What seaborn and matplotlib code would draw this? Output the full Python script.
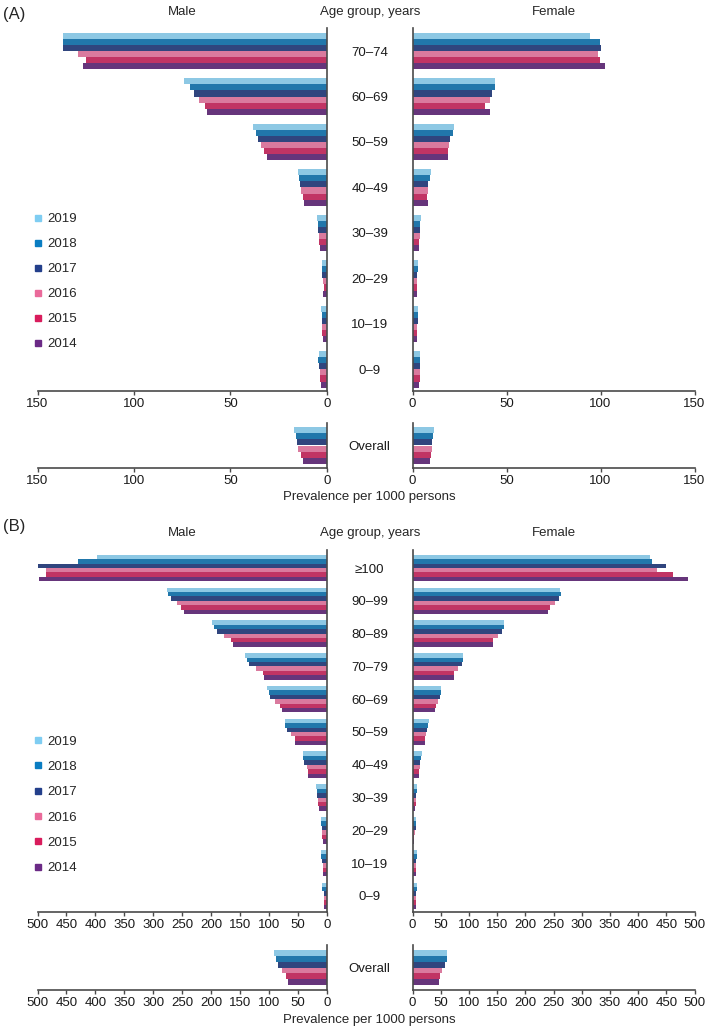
import matplotlib
matplotlib.use('Agg')
import matplotlib.pyplot as plt
from matplotlib.lines import Line2D
import seaborn as sns
import pandas as pd

# years and colours, top bar in each group first
years = ['2019', '2018', '2017', '2016', '2015', '2014']
colors = ['#7fcdf2', '#0a7dc2', '#233f8b', '#ea6a9a', '#d91c5c', '#6b2a86']

# Panel A - prevalence per 1000 persons
ages_a = ['70–74', '60–69', '50–59', '40–49', '30–39', '20–29', '10–19', '0–9']
male_a = [
    [136.8, 136.9, 136.9, 129.1, 124.8, 126.2],
    [74.0, 71.2, 68.8, 66.5, 63.0, 62.4],
    [38.1, 37.0, 35.6, 34.1, 32.9, 31.1],
    [15.1, 14.5, 14.0, 13.3, 12.6, 11.9],
    [5.2, 4.7, 4.7, 4.2, 4.0, 3.8],
    [2.8, 2.6, 2.6, 2.3, 1.6, 1.9],
    [3.3, 2.8, 2.6, 2.8, 2.6, 2.1],
    [4.2, 4.5, 4.0, 3.5, 3.5, 3.3],
]
female_a = [
    [94.4, 99.6, 100.3, 98.7, 99.6, 102.2],
    [43.8, 43.8, 42.2, 41.2, 38.7, 41.0],
    [22.2, 21.5, 20.1, 19.5, 19.0, 19.0],
    [9.6, 9.1, 8.5, 8.3, 7.6, 8.0],
    [4.6, 4.1, 4.1, 4.1, 3.4, 3.4],
    [3.1, 2.9, 2.6, 2.4, 2.2, 2.2],
    [3.1, 2.9, 2.9, 2.6, 2.4, 2.2],
    [4.1, 4.1, 3.9, 3.9, 3.9, 3.6],
]
male_a_overall = [16.9, 16.0, 15.5, 15.0, 13.6, 12.2]
female_a_overall = [11.6, 10.8, 10.6, 10.6, 9.9, 9.1]
ticks_a = [0, 50, 100, 150]

# Panel B
ages_b = ['≥100', '90–99', '80–89', '70–79', '60–69', '50–59', '40–49',
          '30–39', '20–29', '10–19', '0–9']
male_b = [
    [398, 430, 499, 485, 485, 498],
    [277, 275, 270, 259, 253, 247],
    [198, 196, 190, 178, 166, 162],
    [141, 139, 134, 122, 111, 108],
    [103, 101, 98, 89, 82, 78],
    [73, 72, 69, 63, 56, 55],
    [42, 41, 40, 35, 33, 32],
    [19, 18, 17, 15, 15, 14],
    [11, 10, 9, 8, 8, 7],
    [10, 10, 9, 7, 7, 7],
    [8, 8, 6, 5, 6, 6],
]
female_b = [
    [421, 424, 450, 433, 462, 489],
    [262, 263, 260, 252, 243, 241],
    [163, 163, 159, 151, 143, 143],
    [90, 90, 88, 80, 74, 73],
    [51, 51, 49, 45, 41, 40],
    [29, 28, 26, 24, 23, 22],
    [16, 15, 14, 13, 12, 11],
    [8, 8, 7, 6, 6, 5],
    [6, 6, 6, 4, 3, 3],
    [8, 8, 7, 6, 6, 6],
    [8, 8, 6, 6, 6, 6],
]
male_b_overall = [91, 88, 84, 77, 70, 68]
female_b_overall = [62, 61, 57, 53, 48, 47]
ticks_b = list(range(0, 501, 50))


def to_long(ages, rows):
    recs = []
    for age, row in zip(ages, rows):
        for yr, v in zip(years, row):
            recs.append({'age': age, 'year': yr, 'value': v})
    return pd.DataFrame(recs)


sns.set_style('ticks')
plt.rcParams['font.family'] = ['Liberation Sans', 'DejaVu Sans']
FS = 9.5
SPINE = '#4a4a4a'

W, H = 709, 1030
fig = plt.figure(figsize=(W / 100, H / 100), dpi=100)


def px_axes(left, top, right, bottom):
    return fig.add_axes([left / W, 1 - bottom / H, (right - left) / W, (bottom - top) / H])


def draw(ax, df, ticks, side, ylim, width, label_pad=None):
    sns.barplot(data=df, x='value', y='age', hue='year', hue_order=years,
                palette=colors, orient='h', width=width, linewidth=0,
                errorbar=None, legend=False, ax=ax)
    xmax = ticks[-1]
    if side == 'male':
        ax.set_xlim(xmax, 0)
        ax.spines['left'].set_visible(False)
        ax.spines['right'].set_visible(True)
    else:
        ax.set_xlim(0, xmax)
        ax.spines['right'].set_visible(False)
    ax.spines['top'].set_visible(False)
    for s in ax.spines.values():
        s.set_color(SPINE)
        s.set_linewidth(1.2)
    ax.set_ylim(*ylim)
    ax.set_xticks(ticks)
    ax.set_xticklabels([str(t) for t in ticks])
    ax.tick_params(axis='x', length=3, width=1, color=SPINE, labelsize=FS,
                   pad=2, labelcolor='#1a1a1a')
    ax.set_xlabel('')
    ax.set_ylabel('')
    if label_pad is None:
        ax.set_yticks([])
    else:
        ax.tick_params(axis='y', length=0, pad=label_pad, labelsize=FS,
                       labelcolor='#1a1a1a')
        for t in ax.get_yticklabels():
            t.set_horizontalalignment('center')


def panel(tag, ages, male, female, male_ov, female_ov, ticks, head_y, tag_y,
          main_top, main_bottom, ylim, width, ov_top, ov_bottom, ov_width,
          legend_top, legend_space, xlab_y):
    mleft, mright = 37.5, 327
    fleft, fright = 412.5, 694.5
    center = (mright + fleft) / 2
    pad = (fleft - center) * 72 / 100

    ax_m = px_axes(mleft, main_top, mright, main_bottom)
    ax_f = px_axes(fleft, main_top, fright, main_bottom)
    draw(ax_m, to_long(ages, male), ticks, 'male', ylim, width)
    draw(ax_f, to_long(ages, female), ticks, 'female', ylim, width, label_pad=pad)

    ax_mo = px_axes(mleft, ov_top, mright, ov_bottom)
    ax_fo = px_axes(fleft, ov_top, fright, ov_bottom)
    draw(ax_mo, to_long(['Overall'], [male_ov]), ticks, 'male', (0.5, -0.5), ov_width)
    draw(ax_fo, to_long(['Overall'], [female_ov]), ticks, 'female', (0.5, -0.5),
         ov_width, label_pad=pad)

    handles = [Line2D([], [], marker='s', color=c, linestyle='none', markersize=4.5)
               for c in colors]
    ax_m.legend(handles, years, loc='upper left',
                bbox_to_anchor=(32.5 / W, 1 - legend_top / H),
                bbox_transform=fig.transFigure, frameon=False, fontsize=FS,
                handlelength=0.8, handletextpad=0.3, labelspacing=legend_space,
                borderpad=0, borderaxespad=0)

    fig.text(3 / W, 1 - tag_y / H, tag, fontsize=12, ha='left', va='center')
    fig.text((mleft + mright) / 2 / W, 1 - head_y / H, 'Male', fontsize=FS,
             ha='center', va='center')
    fig.text(center / W, 1 - head_y / H, 'Age group, years', fontsize=FS,
             ha='center', va='center')
    fig.text((fleft + fright) / 2 / W, 1 - head_y / H, 'Female', fontsize=FS,
             ha='center', va='center')
    fig.text(center / W, 1 - xlab_y / H, 'Prevalence per 1000 persons',
             fontsize=FS, ha='center', va='center')


panel('(A)', ages_a, male_a, female_a, male_a_overall, female_a_overall, ticks_a,
      head_y=12, tag_y=15, main_top=28.3, main_bottom=390.7,
      ylim=(7.47, -0.5), width=0.806,
      ov_top=422.7, ov_bottom=468.3, ov_width=0.8,
      legend_top=213, legend_space=0.97, xlab_y=497)
panel('(B)', ages_b, male_b, female_b, male_b_overall, female_b_overall, ticks_b,
      head_y=533, tag_y=527, main_top=550, main_bottom=912.3,
      ylim=(10.5, -0.55), width=0.81,
      ov_top=945, ov_bottom=990, ov_width=0.76,
      legend_top=735.5, legend_space=0.99, xlab_y=1020)

fig.savefig('out.png', dpi=100, facecolor='white')
